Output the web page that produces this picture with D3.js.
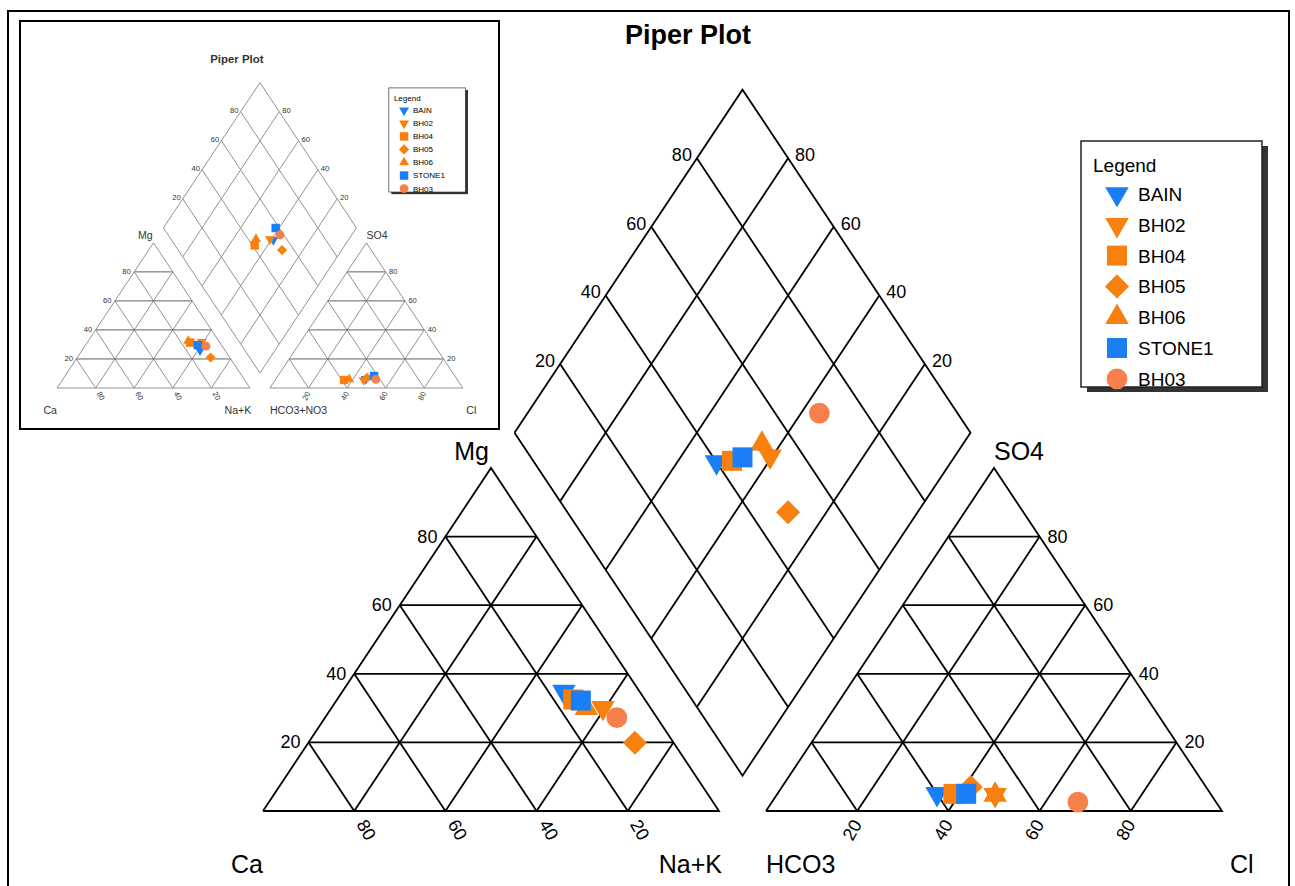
<!DOCTYPE html>
<html>
<head>
<meta charset="utf-8">
<script src="https://cdn.jsdelivr.net/npm/d3@7"></script>
<style>
  body { margin: 0; background: white; }
  svg { display: block; font-family: "Liberation Sans", Arial, Helvetica, sans-serif; }
</style>
</head>
<body>
<div id="container"></div>
<script>
let w = 1295;
let h = 886;

// samples in legend order
let samples = ["BAIN", "BH02", "BH04", "BH05", "BH06", "STONE1", "BH03"];
let shapes  = ["down", "down", "square", "diamond", "up", "square", "circle"];
let colors  = ["#1a7ff5", "#f7800f", "#f7800f", "#f7800f", "#f7800f", "#1a7ff5", "#f5804c"];

// main plot, percent of meq/l
let ca   = [16.6, 10.4, 15.7,  8.5, 14.1, 14.2,  8.8];
let mg   = [34.8, 30.1, 32.5, 19.9, 30.0, 32.2, 27.2];
let nak  = [48.6, 59.5, 51.8, 71.6, 55.9, 53.6, 64.0];
let hco3 = [60.0, 47.4, 56.4, 51.6, 47.4, 53.6, 30.3];
let so4  = [ 5.0,  4.7,  5.0,  7.0,  4.7,  5.0,  2.6];
let cl   = [35.0, 47.9, 38.6, 41.4, 47.9, 41.4, 67.1];

// small inset (older version of the same plot)
let insetCa   = [12.9,  9.2, 15.4,  9.9, 15.8, 12.3,  8.4];
let insetMg   = [26.0, 31.7, 31.3, 21.0, 32.4, 29.5, 28.8];
let insetNak  = [61.1, 59.1, 53.3, 69.1, 51.8, 58.2, 62.8];
let insetHco3 = [47.2, 48.7, 58.8, 46.2, 55.9, 41.9, 42.1];
let insetSo4  = [ 6.2,  5.5,  5.5,  7.0,  6.0,  8.2,  6.0];
let insetCl   = [46.6, 45.8, 35.7, 46.8, 38.1, 49.9, 51.9];

let ticks = [20, 40, 60, 80];

let gap = 47 / 456; // space between the two triangles, in triangle widths

let viz = d3.select("#container")
  .append("svg")
    .attr("width", w)
    .attr("height", h)
;

// outer frame of the whole figure
viz.append("rect")
  .attr("x", 8).attr("y", 11)
  .attr("width", 1281).attr("height", 900)
  .attr("fill", "none").attr("stroke", "#000").attr("stroke-width", 2);

function markerPath(shape, s) {
  if (shape == "circle") return d3.symbol(d3.symbolCircle, 340 * s * s)();
  if (shape == "square") return d3.symbol(d3.symbolSquare, 400 * s * s)();
  if (shape == "diamond") return d3.symbol(d3.symbolSquare, 290 * s * s)();
  return d3.symbol(d3.symbolTriangle, 240 * s * s)();
}
function markerRot(shape) {
  if (shape == "down") return 180;
  if (shape == "diamond") return 45;
  return 0;
}

// draws a full piper plot in the coordinates of the big one
function drawPiper(g, style, d) {
  let xScale = d3.scaleLinear().domain([0, 2 + gap]).range([263, 1222]);
  let yScale = d3.scaleLinear().domain([0, 1]).range([811, 468]);
  let line = d3.line().x(p => xScale(p[0])).y(p => yScale(p[1]));
  let ox = 1 + gap;

  // unit coords for each part
  function cation(na, m) { return [na / 100 + m / 200, m / 100]; }
  function anion(c, s) { return [ox + c / 100 + s / 200, s / 100]; }
  function dia(na, cs) { return [0.5 * (1 + gap) + 0.5 * (na + cs), 1 + gap + cs - na]; }

  let hSegs = [];
  let segs = [];
  ticks.forEach(t => {
    let f = t / 100;
    hSegs.push([[f / 2, f], [1 - f / 2, f]]);
    hSegs.push([[ox + f / 2, f], [ox + 1 - f / 2, f]]);
    segs.push([[f, 0], [(1 + f) / 2, 1 - f]]);
    segs.push([[1 - f, 0], [(1 - f) / 2, 1 - f]]);
    segs.push([[ox + f, 0], [ox + (1 + f) / 2, 1 - f]]);
    segs.push([[ox + 1 - f, 0], [ox + (1 - f) / 2, 1 - f]]);
    segs.push([dia(0, f), dia(1, f)]);
    segs.push([dia(f, 0), dia(f, 1)]);
  });

  g.selectAll(".grid").data(segs).enter()
    .append("path")
      .attr("d", line)
      .attr("fill", "none")
      .attr("stroke", style.line)
      .attr("stroke-width", style.lw);
  g.selectAll(".hgrid").data(hSegs).enter()
    .append("path")
      .attr("d", line)
      .attr("fill", "none")
      .attr("stroke", style.hline)
      .attr("stroke-width", style.lw);

  let outlines = [
    [[0, 0], [1, 0], [0.5, 1], [0, 0]],
    [[ox, 0], [ox + 1, 0], [ox + 0.5, 1], [ox, 0]],
    [dia(0, 0), dia(1, 0), dia(1, 1), dia(0, 1), dia(0, 0)]
  ];
  g.selectAll(".outline").data(outlines).enter()
    .append("path")
      .attr("d", line)
      .attr("fill", "none")
      .attr("stroke", style.line)
      .attr("stroke-width", style.lw)
      .attr("stroke-linejoin", "miter");

  // tick labels
  let labels = [];
  ticks.forEach(t => {
    let f = t / 100;
    labels.push({ p: [f / 2, f], text: t, dx: -8, dy: 0, anchor: "end", rot: 0 });
    labels.push({ p: [ox + 1 - f / 2, f], text: t, dx: 8, dy: 0, anchor: "start", rot: 0 });
    labels.push({ p: dia(0, f), text: t, dx: -5, dy: -3, anchor: "end", rot: 0 });
    labels.push({ p: dia(1 - f, 1), text: t, dx: 7, dy: -3, anchor: "start", rot: 0 });
    labels.push({ p: [1 - f, 0], text: t, dx: 12, dy: 19, anchor: "middle", rot: 60 });
    labels.push({ p: [ox + f, 0], text: t, dx: -5, dy: 19, anchor: "middle", rot: -60 });
  });
  g.selectAll(".tlabel").data(labels).enter()
    .append("text")
      .attr("transform", l => "translate(" + (xScale(l.p[0]) + l.dx) + "," + (yScale(l.p[1]) + l.dy) + ") rotate(" + l.rot + ")")
      .attr("text-anchor", l => l.anchor)
      .attr("dominant-baseline", "central")
      .attr("font-size", 18)
      .attr("fill", style.text)
      .text(l => l.text);

  // corner names
  let corners = [
    { p: [0, 0], text: "Ca", dx: 0, dy: 62, anchor: "end" },
    { p: [1, 0], text: "Na+K", dx: 3, dy: 62, anchor: "end" },
    { p: [ox, 0], text: style.anionName, dx: 0, dy: 62, anchor: "start" },
    { p: [ox + 1, 0], text: "Cl", dx: 8, dy: 62, anchor: "start" },
    { p: [0.5, 1], text: "Mg", dx: -2, dy: -8, anchor: "end" },
    { p: [ox + 0.5, 1], text: "SO4", dx: 0, dy: -8, anchor: "start" }
  ];
  g.selectAll(".corner").data(corners).enter()
    .append("text")
      .attr("x", c => xScale(c.p[0]) + c.dx)
      .attr("y", c => yScale(c.p[1]) + c.dy)
      .attr("text-anchor", c => c.anchor)
      .attr("font-size", 25)
      .attr("fill", style.text)
      .text(c => c.text);

  g.append("text")
    .attr("x", 688).attr("y", 44)
    .attr("text-anchor", "middle")
    .attr("font-size", 27)
    .attr("font-weight", "bold")
    .attr("fill", style.text)
    .text("Piper Plot");

  // points: cation triangle, anion triangle, diamond
  let pts = [];
  samples.forEach((name, i) => {
    let cs = (d.cl[i] + d.so4[i]) / 100;
    pts.push({ i: i, p: cation(d.nak[i], d.mg[i]) });
    pts.push({ i: i, p: anion(d.cl[i], d.so4[i]) });
    pts.push({ i: i, p: dia(d.nak[i] / 100, cs) });
  });
  g.selectAll(".pt").data(pts).enter()
    .append("path")
      .attr("d", q => markerPath(shapes[q.i], 1))
      .attr("transform", q => "translate(" + xScale(q.p[0]) + "," + yScale(q.p[1]) + ") rotate(" + markerRot(shapes[q.i]) + ")")
      .attr("fill", q => colors[q.i]);
}

function drawLegend(g, x, y) {
  g.append("rect")
    .attr("x", x + 6).attr("y", y + 5)
    .attr("width", 181).attr("height", 246)
    .attr("fill", "#333");
  g.append("rect")
    .attr("x", x).attr("y", y)
    .attr("width", 181).attr("height", 246)
    .attr("fill", "white").attr("stroke", "#222").attr("stroke-width", 1.5);
  g.append("text")
    .attr("x", x + 12).attr("y", y + 31)
    .attr("font-size", 19)
    .text("Legend");

  let rowY = d3.scaleLinear().domain([0, 1]).range([y + 53, y + 83.8]);
  let rows = g.selectAll(".row").data(samples).enter()
    .append("g")
      .attr("transform", (s, i) => "translate(" + (x + 36) + "," + rowY(i) + ")");
  rows.append("path")
    .attr("d", (s, i) => markerPath(shapes[i], 1))
    .attr("transform", (s, i) => "rotate(" + markerRot(shapes[i]) + ")")
    .attr("fill", (s, i) => colors[i]);
  rows.append("text")
    .attr("x", 21).attr("y", 7)
    .attr("font-size", 19)
    .text(s => s);
}

// main plot
let mainG = viz.append("g");
drawPiper(mainG,
  { line: "#000", hline: "#000", lw: 1.8, text: "#000", anionName: "HCO3" },
  { ca: ca, mg: mg, nak: nak, hco3: hco3, so4: so4, cl: cl });
drawLegend(mainG, 1081, 141);

// inset picture top left
viz.append("rect")
  .attr("x", 20).attr("y", 21)
  .attr("width", 479).attr("height", 408)
  .attr("fill", "white").attr("stroke", "#000").attr("stroke-width", 2);

let s = 193 / 456;
let insetG = viz.append("g")
  .attr("transform", "translate(" + (57 - 263 * s) + "," + (388 - 811 * s) + ") scale(" + s + ")");
drawPiper(insetG,
  { line: "#8a8a8a", hline: "#555", lw: 2.2, text: "#333", anionName: "HCO3+NO3" },
  { ca: insetCa, mg: insetMg, nak: insetNak, hco3: insetHco3, so4: insetSo4, cl: insetCl });
drawLegend(insetG, 1047, 102);
</script>
</body>
</html>
